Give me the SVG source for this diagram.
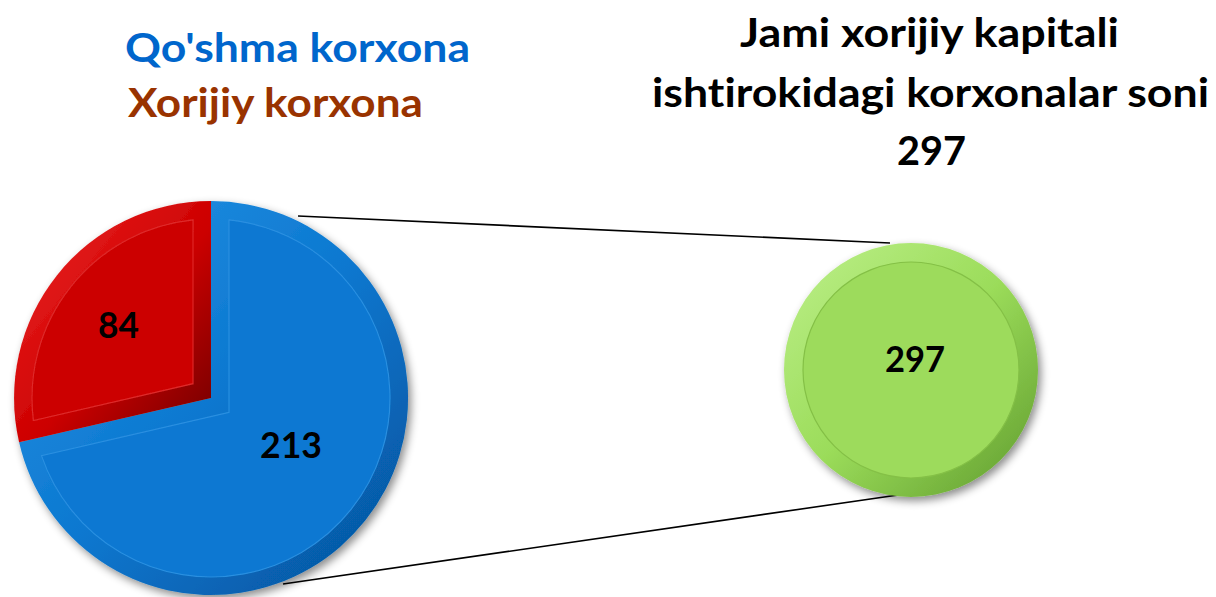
<svg xmlns="http://www.w3.org/2000/svg" width="1216" height="597" viewBox="0 0 1216 597">
<style>
.t{font-family:Lato,"Open Sans","Liberation Sans",sans-serif;font-weight:700;font-variant-ligatures:none;font-feature-settings:"liga" 0}
.lbl{font-family:Lato,"Open Sans","Liberation Sans",sans-serif;font-weight:700;fill:#000}
.conn{stroke:#000;stroke-width:1.6;fill:none}
</style>
<defs>
<linearGradient id="gBlue" x1="0" y1="0" x2="1" y2="1">
<stop offset="0" stop-color="#2a95e6"/><stop offset="0.5" stop-color="#0b78d0"/><stop offset="1" stop-color="#04509a"/>
</linearGradient>
<linearGradient id="gRed" x1="0" y1="0" x2="1" y2="1">
<stop offset="0" stop-color="#f22a2a"/><stop offset="0.55" stop-color="#cc0000"/><stop offset="1" stop-color="#6e0000"/>
</linearGradient>
<linearGradient id="gGreen" x1="0" y1="0" x2="1" y2="1">
<stop offset="0" stop-color="#bdf08a"/><stop offset="0.5" stop-color="#9bdc5a"/><stop offset="1" stop-color="#5e9a2c"/>
</linearGradient>
<filter id="sh" x="-20%" y="-20%" width="140%" height="140%">
<feDropShadow dx="3" dy="4" stdDeviation="4" flood-color="#000" flood-opacity="0.45"/>
</filter>
</defs>
<g id="connectors">
<line class="conn" x1="298" y1="216" x2="890" y2="243"/>
<line class="conn" x1="283" y1="584" x2="898" y2="495"/>
</g>
<g id="pie" filter="url(#sh)">
<g id="slice-blue">
<path d="M211,398 L19.1,442.3 A197,197 0 1,0 211,201 Z" fill="url(#gBlue)"/>
<path d="M229,412.3 L41.5,455.6 A179,179 0 1,0 229,219.9 Z" fill="#0a78d2" stroke="#2b8fe0" stroke-width="1.2"/>
</g>
<g id="slice-red">
<path d="M211,398 L211,201 A197,197 0 0,0 19.1,442.3 Z" fill="url(#gRed)"/>
<path d="M193,383.7 L193,219.9 A179,179 0 0,0 33.4,420.5 Z" fill="#cc0000" stroke="#de2a2a" stroke-width="1.2"/>
</g>
</g>
<text class="lbl" x="98" y="338" font-size="36" textLength="41" lengthAdjust="spacingAndGlyphs">84</text>
<text class="lbl" x="260" y="458" font-size="36" textLength="62" lengthAdjust="spacingAndGlyphs">213</text>
<g id="total" filter="url(#sh)">
<circle cx="911" cy="370" r="127" fill="url(#gGreen)"/>
<circle cx="911" cy="370" r="108" fill="#9ddb5c" stroke="#84c046" stroke-width="1.2"/>
</g>
<text class="lbl" x="885" y="372" font-size="36" textLength="60" lengthAdjust="spacingAndGlyphs">297</text>
<g id="legend">
<text class="t" x="125" y="62" font-size="40" fill="#0066cc" textLength="345" lengthAdjust="spacingAndGlyphs">Qo'shma korxona</text>
<text class="t" x="128" y="117" font-size="40" fill="#993300" textLength="295" lengthAdjust="spacingAndGlyphs">Xorijiy korxona</text>
</g>
<g id="title">
<text class="t" x="740" y="47" font-size="40" fill="#000" textLength="379" lengthAdjust="spacingAndGlyphs">Jami xorijiy kapitali</text>
<text class="t" x="652" y="107" font-size="40" fill="#000" textLength="557" lengthAdjust="spacingAndGlyphs">ishtirokidagi korxonalar soni</text>
<text class="t" x="897" y="165" font-size="40" fill="#000" textLength="69" lengthAdjust="spacingAndGlyphs">297</text>
</g>
</svg>
